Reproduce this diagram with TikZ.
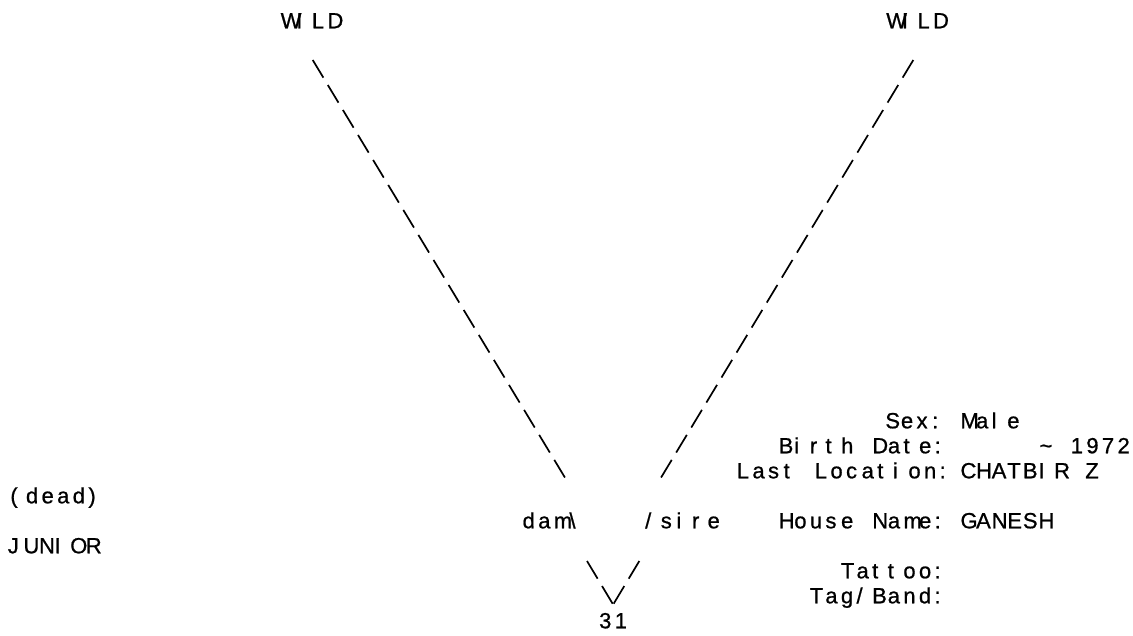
\documentclass[tikz,border=0pt]{standalone}
\usepackage{fontspec}
\setmainfont{Liberation Sans}[FakeBold=0.8]
\ExplSyntaxOn
\cs_new:Npn \gridcell:n #1 {\makebox[15.6pt][l]{#1}}
\NewDocumentCommand\gridtext{m}{\tl_map_function:nN {#1} \gridcell:n}
\ExplSyntaxOff
\tikzset{
  txt/.style={anchor=base west,inner sep=0pt,font=\fontsize{22pt}{25pt}\selectfont},
  link/.style={line width=1.7pt,dash pattern=on 20.6pt off 8.6pt}}

\begin{document}
\begin{tikzpicture}[x=15pt,y=-25pt]
\useasboundingbox (-0.9,-17.132) rectangle (74.633,8.268);
\node[txt] (wildL) at (17.8,-16)  {\gridtext{WILD}};
\node[txt] (wildR) at (58.17,-16) {\gridtext{WILD}};
\node[txt] (dam)   at (33.93,4)   {\gridtext{dam{\textbackslash}}};
\node[txt] (sire)  at (42.1,4)    {\gridtext{/sire}};
\node[txt] (id)    at (39.03,8)   {\gridtext{31}};
\node[txt] (dead)  at (-0.22,3)   {\gridtext{(dead)}};
\node[txt] (name)  at (-0.39,5)   {\gridtext{JUNIOR}};
\node[txt] (sexL)   at (58.11,0) {\gridtext{Sex:}};
\node[txt] (birthL) at (51,1)    {\gridtext{Birth~Date:}};
\node[txt] (locL)   at (48.21,2) {\gridtext{Last~Location:}};
\node[txt] (houseL) at (51,4)    {\gridtext{House~Name:}};
\node[txt] (tatL)   at (55.15,6) {\gridtext{Tattoo:}};
\node[txt] (tagL)   at (53.07,7) {\gridtext{Tag/Band:}};
\node[txt] (sex)    at (63.12,0) {\gridtext{Male}};
\node[txt] (birth)  at (68.39,1) {\gridtext{{\textasciitilde}~1972}};
\node[txt] (loc)    at (63.12,2) {\gridtext{CHATBIR~Z}};
\node[txt] (house)  at (63.12,4) {\gridtext{GANESH}};
\coordinate (damtop)  at (19.947,-14.732);
\coordinate (dambot)  at (36.833,2.04);
\coordinate (siretop) at (59.987,-14.732);
\coordinate (sirebot) at (43.1,2.04);
\coordinate (damlow)  at (38.233,5.308);
\coordinate (sirelow) at (41.72,5.308);
\coordinate (idtipL)  at (39.947,7.02);
\coordinate (idtipR)  at (40.007,7.02);
\draw[link] (damtop) -- (dambot);
\draw[link] (siretop) -- (sirebot);
\draw[link] (damlow) -- (idtipL);
\draw[link] (sirelow) -- (idtipR);
\end{tikzpicture}
\end{document}
